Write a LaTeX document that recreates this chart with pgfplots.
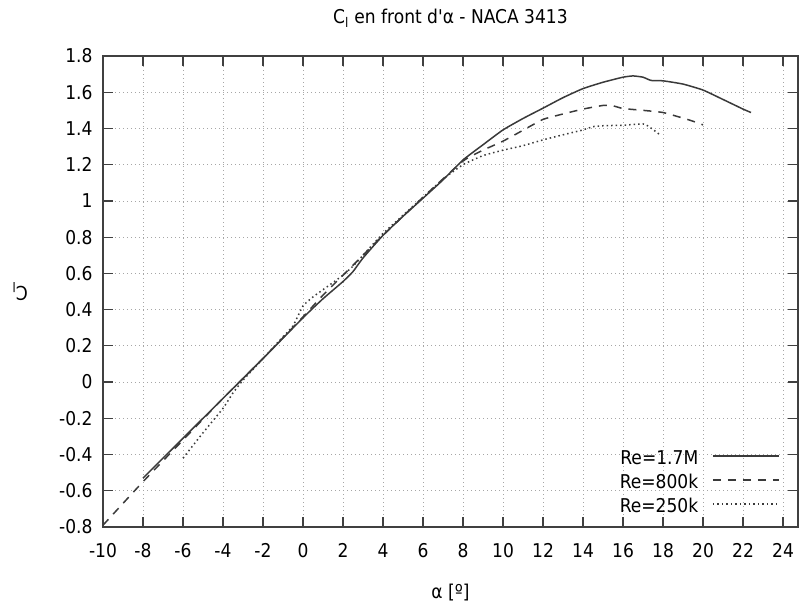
\documentclass[border=0pt]{standalone}
\usepackage{fontspec}
\setmainfont{DejaVu Sans Condensed}[Ligatures=TeXOff]
\usepackage{pgfplots}
\pgfplotsset{compat=1.18}
\definecolor{ln}{HTML}{3A3A3A}
\definecolor{ax}{HTML}{404040}
\begin{document}
\fontsize{19}{23}\selectfont
\begin{tikzpicture}
\begin{axis}[
  scale only axis, width=695pt, height=471pt,
  at={(0,0)}, anchor=south west,
  xmin=-10, xmax=24.75, ymin=-0.8, ymax=1.8,
  xtick={-10,-8,-6,-4,-2,0,2,4,6,8,10,12,14,16,18,20,22,24},
  ytick={-0.8,-0.6,-0.4,-0.2,0,0.2,0.4,0.6,0.8,1,1.2,1.4,1.6,1.8},
  yticklabels={-0.8,-0.6,-0.4,-0.2,0,0.2,0.4,0.6,0.8,1,1.2,1.4,1.6,1.8},
  xticklabels={-10,-8,-6,-4,-2,0,2,4,6,8,10,12,14,16,18,20,22,24},
  /pgf/number format/assume math mode=true,
  tick label style={font=\fontsize{19}{23}\selectfont},
  xticklabel style={yshift=-10pt},
  yticklabel style={xshift=-4pt},
  grid=major,
  grid style={dash pattern=on 1pt off 3pt, gray!70, line width=0.8pt},
  major tick length=10pt, tick align=inside,
  tick style={ax, line width=1.2pt},
  axis line style={ax, line width=1.3pt},
  title={C\textsubscript{l} en front d'α - NACA 3413},
  title style={at={(axis description cs:0.5,1)}, anchor=center, yshift=32pt, font=\fontsize{19}{23}\selectfont},
  xlabel={α [º]},
  xlabel style={at={(axis description cs:0.5,0)}, anchor=center, yshift=-66pt, font=\fontsize{19}{23}\selectfont},
  ylabel={C\textsubscript{l}},
  ylabel style={at={(axis description cs:-0.1194,0.5)}, anchor=center, rotate=90, font=\fontsize{19}{23}\selectfont},
  legend style={draw=none, fill=none, at={(axis description cs:0.974,0.1635)}, anchor=north east,
    inner sep=0pt, row sep=6pt, column sep=14pt,
    nodes={inner sep=0pt, text height=14pt, text depth=4pt, font=\fontsize{19}{23}\selectfont}},
  legend cell align=right,
  legend plot pos=right,
  legend image code/.code={\draw[#1] (0pt,3pt) -- (66pt,3pt);},
]
\addplot[ln, line width=1.5pt, smooth, tension=0.3] coordinates {
(-8,-0.53) (-6,-0.31) (-4,-0.09) (-2,0.13) (0,0.355) (1,0.46) (2,0.555) (2.5,0.61) (3,0.685) (4,0.81) (5,0.915) (6,1.015) (7,1.116) (8,1.226) (9,1.31) (10,1.392) (11,1.455) (12,1.512) (13,1.57) (14,1.62) (15,1.655) (16,1.683) (16.5,1.69) (17,1.683) (17.4,1.665) (18,1.663) (19,1.645) (20,1.612) (21,1.56) (22,1.507) (22.4,1.488)
};
\addlegendentry{Re=1.7M}
\addplot[ln, line width=1.5pt, dash pattern=on 8pt off 7pt, smooth, tension=0.3] coordinates {
(-10,-0.79) (-8,-0.55) (-6,-0.32) (-4,-0.09) (-2,0.13) (0,0.36) (1,0.48) (2,0.59) (3,0.7) (4,0.81) (6,1.02) (8,1.22) (9,1.28) (10,1.33) (11,1.39) (12,1.45) (13,1.48) (14,1.507) (15,1.527) (15.5,1.525) (16,1.51) (17,1.5) (18,1.488) (19,1.457) (19.5,1.44) (20,1.42)
};
\addlegendentry{Re=800k}
\addplot[ln, line width=1.5pt, dash pattern=on 1.5pt off 3pt, smooth, tension=0.3] coordinates {
(-6,-0.42) (-5,-0.28) (-4,-0.145) (-3.5,-0.06) (-3,0.01) (-2,0.13) (-1,0.25) (-0.5,0.31) (0,0.42) (0.5,0.47) (1,0.51) (2,0.59) (2.5,0.64) (3,0.70) (4,0.82) (6,1.02) (7,1.12) (8,1.2) (9,1.25) (10,1.28) (11,1.305) (12,1.337) (13,1.365) (14,1.392) (14.5,1.41) (15,1.415) (16,1.418) (17,1.425) (17.3,1.41) (17.85,1.365)
};
\addlegendentry{Re=250k}
\end{axis}
\pgfresetboundingbox
\useasboundingbox (-103pt,-81pt) rectangle (699pt,527pt);
\end{tikzpicture}
\end{document}
